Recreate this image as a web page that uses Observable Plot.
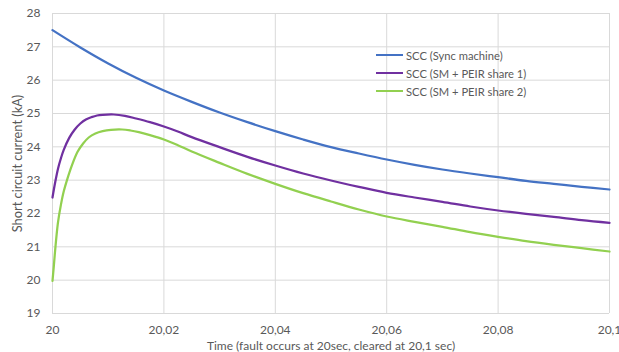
<!DOCTYPE html>
<html>
<head>
<meta charset="utf-8">
<script src="https://cdn.jsdelivr.net/npm/d3@7"></script>
<script src="https://cdn.jsdelivr.net/npm/@observablehq/plot@0.6"></script>
<style>
  html, body { margin: 0; padding: 0; background: #fff; }
  #wrap { position: relative; width: 619px; height: 352px; font-family: Lato, "Open Sans", sans-serif; }
  #legend { position: absolute; left: 376px; top: 46px; font-size: 11.2px; color: #595959; }
  #legend .row { display: flex; align-items: center; height: 18px; }
  #legend .sw { width: 27px; height: 2.5px; margin-right: 3px; }
</style>
</head>
<body>
<div id="wrap"></div>
<script>
// Series names and colours
const seriesNames = ["SCC (Sync machine)", "SCC (SM + PEIR share 1)", "SCC (SM + PEIR share 2)"];
const seriesColors = ["#4472C4", "#7030A0", "#92D050"];

// Time (s) and short circuit current (kA)
const tSync = [20, 20.005, 20.01, 20.015, 20.02, 20.025, 20.03, 20.035, 20.04, 20.045, 20.05, 20.055, 20.06, 20.065, 20.07, 20.075, 20.08, 20.085, 20.09, 20.095, 20.1];
const iSync = [27.5, 26.98, 26.5, 26.07, 25.69, 25.35, 25.03, 24.74, 24.47, 24.22, 23.99, 23.8, 23.62, 23.46, 23.32, 23.2, 23.09, 22.98, 22.89, 22.8, 22.72];

const tShare1 = [20, 20.0005, 20.001, 20.0015, 20.002, 20.003, 20.004, 20.005, 20.006, 20.007, 20.008, 20.009, 20.011, 20.013, 20.015, 20.0175, 20.02, 20.0225, 20.025, 20.03, 20.035, 20.04, 20.045, 20.05, 20.055, 20.06, 20.065, 20.07, 20.075, 20.08, 20.085, 20.09, 20.095, 20.1];
const iShare1 = [22.48, 22.95, 23.35, 23.65, 23.9, 24.27, 24.52, 24.7, 24.82, 24.89, 24.94, 24.96, 24.97, 24.93, 24.85, 24.74, 24.61, 24.46, 24.29, 23.99, 23.7, 23.44, 23.2, 22.99, 22.8, 22.62, 22.48, 22.35, 22.21, 22.09, 21.99, 21.9, 21.8, 21.72];

const tShare2 = [20, 20.0002, 20.0004, 20.0007, 20.001, 20.0015, 20.002, 20.0026, 20.0035, 20.0045, 20.0055, 20.0065, 20.0077, 20.009, 20.0105, 20.0125, 20.014, 20.0155, 20.0175, 20.02, 20.0225, 20.025, 20.03, 20.035, 20.04, 20.045, 20.05, 20.055, 20.06, 20.065, 20.07, 20.075, 20.08, 20.085, 20.09, 20.095, 20.1];
const iShare2 = [19.98, 20.35, 20.75, 21.3, 21.75, 22.25, 22.65, 23.0, 23.45, 23.85, 24.1, 24.28, 24.4, 24.47, 24.51, 24.52, 24.49, 24.44, 24.35, 24.22, 24.05, 23.86, 23.52, 23.19, 22.89, 22.61, 22.36, 22.12, 21.91, 21.75, 21.6, 21.44, 21.3, 21.17, 21.06, 20.96, 20.86];

// Axis ticks and titles
const xTicks = [20, 20.02, 20.04, 20.06, 20.08, 20.1];
const yTicks = [19, 20, 21, 22, 23, 24, 25, 26, 27, 28];
const xTitle = "Time (fault occurs at 20sec, cleared at 20,1 sec)";
const yTitle = "Short circuit current (kA)";

const toRows = (ts, vs, s) => ts.map((t, i) => ({t, v: vs[i], s}));
const data = [
  ...toRows(tSync, iSync, seriesNames[0]),
  ...toRows(tShare1, iShare1, seriesNames[1]),
  ...toRows(tShare2, iShare2, seriesNames[2])
];

const fmt = d => String(+d.toFixed(2)).replace(".", ",");

const chart = Plot.plot({
  width: 619,
  height: 352,
  marginLeft: 52,
  marginRight: 10,
  marginTop: 13,
  marginBottom: 39,
  style: {fontFamily: "Lato, 'Open Sans', sans-serif", fontSize: "12px", color: "#595959", background: "#fff"},
  x: {domain: [20, 20.1]},
  y: {domain: [19, 28]},
  color: {domain: seriesNames, range: seriesColors},
  marks: [
    Plot.gridX(xTicks, {stroke: "#d9d9d9", strokeOpacity: 1}),
    Plot.gridY(yTicks, {stroke: "#d9d9d9", strokeOpacity: 1}),
    Plot.axisX(xTicks, {tickSize: 0, tickPadding: 12, tickFormat: fmt, label: xTitle, labelAnchor: "center", labelArrow: "none", labelOffset: 36, fontSize: 12}),
    Plot.axisY(yTicks, {tickSize: 0, tickPadding: 12, label: null, fontSize: 12}),
    Plot.text([yTitle], {frameAnchor: "left", text: d => d, rotate: -90, textAnchor: "middle", dx: -35, fontSize: 12.8, fill: "#595959"}),
    Plot.line(data, {x: "t", y: "v", z: "s", stroke: "s", strokeWidth: 2.25, curve: "catmull-rom"})
  ]
});

const wrap = document.getElementById("wrap");
wrap.appendChild(chart);

const legend = document.createElement("div");
legend.id = "legend";
seriesNames.forEach((name, i) => {
  const row = document.createElement("div");
  row.className = "row";
  const sw = document.createElement("span");
  sw.className = "sw";
  sw.style.background = seriesColors[i];
  const label = document.createElement("span");
  label.textContent = name;
  row.appendChild(sw);
  row.appendChild(label);
  legend.appendChild(row);
});
wrap.appendChild(legend);
</script>
</body>
</html>
